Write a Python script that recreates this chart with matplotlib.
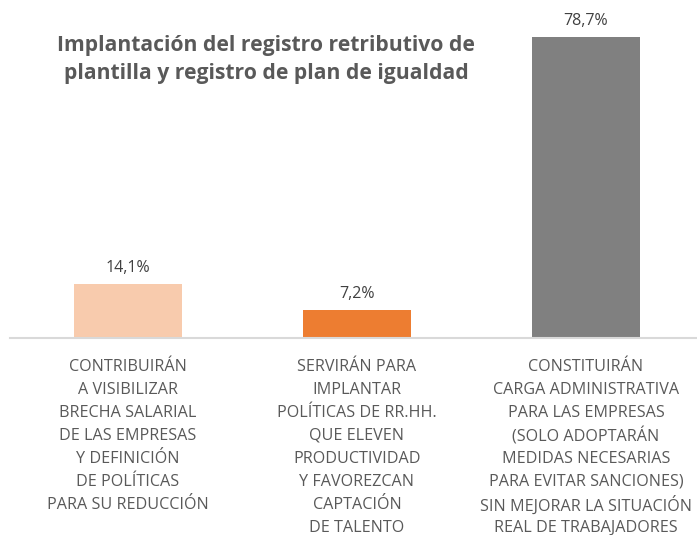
import matplotlib
matplotlib.use("Agg")
import matplotlib.pyplot as plt

categories = [
    "CONTRIBUIRÁN\nA VISIBILIZAR\nBRECHA SALARIAL\nDE LAS EMPRESAS\nY DEFINICIÓN\nDE POLÍTICAS\nPARA SU REDUCCIÓN",
    "SERVIRÁN PARA\nIMPLANTAR\nPOLÍTICAS DE RR.HH.\nQUE ELEVEN\nPRODUCTIVIDAD\nY FAVOREZCAN\nCAPTACIÓN\nDE TALENTO",
    "CONSTITUIRÁN\nCARGA ADMINISTRATIVA\nPARA LAS EMPRESAS\n(SOLO ADOPTARÁN\nMEDIDAS NECESARIAS\nPARA EVITAR SANCIONES)\nSIN MEJORAR LA SITUACIÓN\nREAL DE TRABAJADORES",
]
values = [14.1, 7.2, 78.7]
colors = ["#F8CBAD", "#ED7D31", "#808080"]
title = "Implantación del registro retributivo de\nplantilla y registro de plan de igualdad"

plt.rcParams['font.family'] = ['Open Sans', 'DejaVu Sans']

fig = plt.figure(figsize=(6.97, 5.35), dpi=100)
ax = fig.add_axes([10/697, 1 - 338/535, 1 - 10/697, (338 - 37)/535 / 0.999])

x = list(range(len(values)))
bars = ax.bar(x, values, width=0.47, color=colors)
ax.set_xlim(-0.515, 2.485)
ax.set_ylim(0, 78.7 / 0.999)

labels = [f"{v:.1f}".replace(".", ",") + "%" for v in values]
ax.bar_label(bars, labels=labels, padding=6, fontsize=11.5, color="#404040")

# category labels, one line at a time for even spacing
px = 0.72  # points per pixel at 100 dpi
for xi, cat in zip(x, categories):
    for i, line in enumerate(cat.split("\n")):
        ax.annotate(line, xy=(xi, 0), xycoords=("data", "axes fraction"),
                    xytext=(0, -(29 + 23 * i) * px), textcoords="offset points",
                    ha="center", va="center", fontsize=11.6, color="#595959")

ax.set_xticks([])
ax.set_yticks([])
for s in ["top", "right", "left"]:
    ax.spines[s].set_visible(False)
ax.spines["bottom"].set_color("#D9D9D9")
ax.spines["bottom"].set_linewidth(1.5)

fig.text(266/697, 1 - 59.5/535, title, ha="center", va="center", fontsize=15.2,
         fontweight="bold", color="#595959", linespacing=1.45)

fig.savefig("out.png", dpi=100)
